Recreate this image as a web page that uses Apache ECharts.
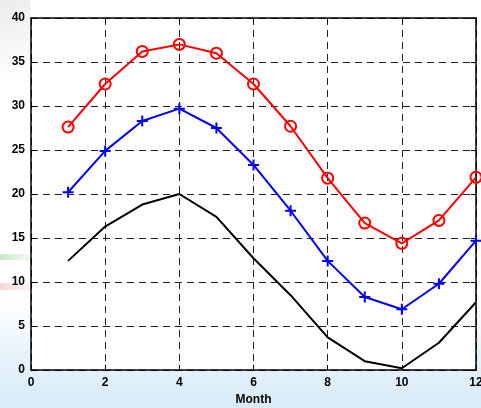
<!DOCTYPE html>
<html>
<head>
<meta charset="utf-8">
<script src="https://cdn.jsdelivr.net/npm/echarts@6/dist/echarts.min.js"></script>
<style>
  html, body { margin: 0; padding: 0; background: #ffffff; }
  #chart { width: 481px; height: 408px; }
</style>
</head>
<body>
<div id="chart"></div>
<script>
// Monthly values for three curves
const months = [1, 2, 3, 4, 5, 6, 7, 8, 9, 10, 11, 12];
const upper  = [27.6, 32.5, 36.2, 37.0, 36.0, 32.5, 27.7, 21.8, 16.7, 14.4, 17.0, 21.9];
const middle = [20.2, 24.9, 28.3, 29.7, 27.5, 23.3, 18.1, 12.4, 8.3, 6.9, 9.8, 14.7];
const lower  = [12.4, 16.3, 18.8, 20.0, 17.4, 12.7, 8.5, 3.7, 1.0, 0.2, 3.1, 7.7];
const xTitle = 'Month';

const pairs = arr => months.map((m, i) => [m, arr[i]]);
const font = { fontFamily: 'Liberation Sans', fontWeight: 'bold', fontSize: 12, color: '#000' };
const gridLine = { show: true, lineStyle: { color: '#222', type: [7, 5], width: 1 } };
const frame = { show: true, onZero: false, lineStyle: { color: '#000', width: 1.5 } };
const ticks = { show: true, inside: true, length: 5, lineStyle: { color: '#000' } };

const chart = echarts.init(document.getElementById('chart'), null, { renderer: 'canvas' });
chart.setOption({
  backgroundColor: '#ffffff',
  animation: false,
  graphic: [
    // soft backdrop tint around the frame
    { type: 'rect', z: -10, shape: { x: 0, y: 300, width: 481, height: 108 },
      style: { fill: new echarts.graphic.LinearGradient(0, 0, 0, 1, [
        { offset: 0, color: 'rgba(215,235,248,0)' },
        { offset: 0.5, color: 'rgba(215,235,248,0.6)' },
        { offset: 1, color: 'rgba(205,230,246,0.8)' }
      ]) } },
    { type: 'rect', z: -10, shape: { x: 0, y: 0, width: 30, height: 80 },
      style: { fill: new echarts.graphic.LinearGradient(0, 0, 1, 1, [
        { offset: 0, color: 'rgba(225,228,230,0.7)' },
        { offset: 1, color: 'rgba(225,228,230,0)' }
      ]) } },
    { type: 'rect', z: -10, shape: { x: 0, y: 254, width: 30, height: 6 },
      style: { fill: new echarts.graphic.LinearGradient(0, 0, 1, 0, [
        { offset: 0, color: 'rgba(150,205,150,0.5)' },
        { offset: 1, color: 'rgba(150,205,150,0.1)' }
      ]) } },
    { type: 'rect', z: -10, shape: { x: 0, y: 283, width: 30, height: 7 },
      style: { fill: new echarts.graphic.LinearGradient(0, 0, 1, 0, [
        { offset: 0, color: 'rgba(240,160,160,0.45)' },
        { offset: 1, color: 'rgba(240,160,160,0.1)' }
      ]) } },
    // white plot face
    { type: 'rect', z: -5, shape: { x: 31, y: 18, width: 445, height: 352 },
      style: { fill: '#ffffff' } }
  ],
  grid: { left: 31, top: 18, right: 5, bottom: 38, containLabel: false, outerBoundsMode: 'none' },
  xAxis: [{
    type: 'value', min: 0, max: 12, interval: 2,
    name: xTitle, nameLocation: 'middle', nameGap: 22,
    nameTextStyle: font,
    axisLine: frame, axisTick: ticks,
    axisLabel: Object.assign({ margin: 7 }, font),
    splitLine: gridLine
  }, {
    type: 'value', min: 0, max: 12, interval: 2, position: 'top',
    axisLine: frame, axisTick: ticks,
    axisLabel: { show: false }, splitLine: { show: false }
  }],
  yAxis: [{
    type: 'value', min: 0, max: 40, interval: 5,
    axisLine: frame, axisTick: ticks,
    axisLabel: Object.assign({ margin: 6 }, font),
    splitLine: gridLine
  }, {
    type: 'value', min: 0, max: 40, interval: 5, position: 'right',
    axisLine: frame, axisTick: ticks,
    axisLabel: { show: false }, splitLine: { show: false }
  }],
  series: [{
    type: 'line', data: pairs(upper),
    lineStyle: { color: '#ff0000', width: 2 },
    symbol: 'circle', symbolSize: 11, showAllSymbol: true,
    itemStyle: { color: 'none', borderColor: '#ff0000', borderWidth: 2 }
  }, {
    type: 'line', data: pairs(middle),
    lineStyle: { color: '#0000ff', width: 2 },
    symbol: 'path://M5,0L5,10M0,5L10,5', symbolSize: 11, showAllSymbol: true,
    itemStyle: { color: 'none', borderColor: '#0000ff', borderWidth: 2 }
  }, {
    type: 'line', data: pairs(lower),
    lineStyle: { color: '#000000', width: 2 },
    symbol: 'none'
  }]
});
</script>
</body>
</html>
